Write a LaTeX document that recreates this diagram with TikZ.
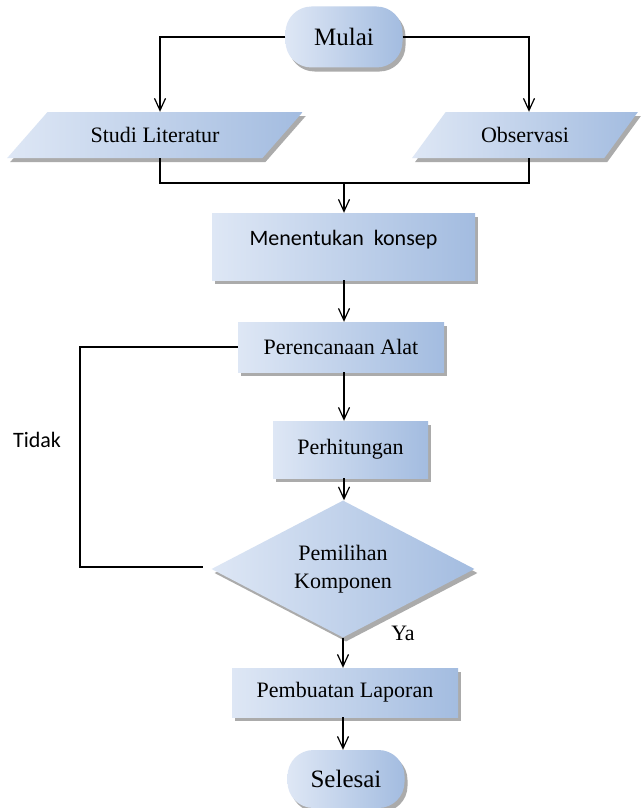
\documentclass[tikz,border=0pt]{standalone}
\usepackage{fontspec}
\setmainfont{Liberation Serif}
\newfontfamily\calibri{Carlito}
\usetikzlibrary{shapes.geometric, shadows, arrows.meta}

\definecolor{boxlight}{RGB}{222,231,245}
\definecolor{boxdark}{RGB}{163,188,224}
\definecolor{shadowgray}{RGB}{150,150,150}

\tikzset{
	flowbox/.style={draw=none, left color=boxlight, right color=boxdark,
		drop shadow={shadow xshift=3pt, shadow yshift=-4pt, fill=shadowgray, opacity=.8},
		font=\fontsize{22}{28}\selectfont, inner sep=2pt},
	terminal/.style={flowbox, rectangle, rounded corners=26pt, font=\fontsize{25}{30}\selectfont},
	process/.style={flowbox, rectangle},
	inout/.style={flowbox, trapezium, trapezium stretches=true},
	decision/.style={flowbox, diamond, aspect=1.9, inner sep=0pt, align=center},
	flowline/.style={line width=1.2pt},
}

\begin{document}
\begin{tikzpicture}[x=1pt, y=-1pt, >={Straight Barb[length=12pt, width=11pt]}]
	\useasboundingbox[fill=white] (0,0) rectangle (640,808);
	
	\node[terminal, minimum width=117pt, minimum height=61pt] (mulai) at (344,37) {Mulai};
	\node[inout, trapezium left angle=38, trapezium right angle=142,
		minimum width=296pt, minimum height=46pt] (studi) at (155,135) {Studi Literatur};
	\node[inout, trapezium left angle=45, trapezium right angle=135,
		minimum width=226pt, minimum height=46pt] (observasi) at (525,135) {Observasi};
	\node[process, minimum width=263pt, minimum height=67pt, text depth=18pt] (konsep) at (343.5,246.5) {\calibri Menentukan\ \ konsep};
	\node[process, minimum width=206pt, minimum height=50pt] (rencana) at (341,347) {Perencanaan Alat};
	\node[process, minimum width=155pt, minimum height=57pt] (hitung) at (350.5,449.5) {Perhitungan};
	\node[decision, minimum width=263pt, minimum height=137pt] (pilih) at (343,569) {Pemilihan\\Komponen};
	\node[process, minimum width=226pt, minimum height=49pt] (laporan) at (345,692.5) {Pembuatan Laporan};
	\node[terminal, minimum width=117pt, minimum height=58pt] (selesai) at (346,779) {Selesai};
	
	\node[font=\calibri\fontsize{22}{26}\selectfont] (tidak) at (37,440) {Tidak};
	\node[font=\fontsize{22}{26}\selectfont] (ya) at (403,633) {Ya};
	
	\coordinate (merge) at (344,183);
	\coordinate (back) at (80,567);
	\coordinate (backend) at (203,567);
	
	\draw[flowline, ->] (mulai.west) -| ([xshift=5pt]studi.north);
	\draw[flowline, ->] (mulai.east) -| ([xshift=4pt]observasi.north);
	\draw[flowline] ([xshift=5pt]studi.south) |- (merge) -| ([xshift=4pt]observasi.south);
	\draw[flowline, ->] (merge) -- (merge |- konsep.north);
	\draw[flowline, ->] (merge |- konsep.south) -- (merge |- rencana.north);
	\draw[flowline, ->] (merge |- rencana.south) -- (merge |- hitung.north);
	\draw[flowline, ->] (merge |- hitung.south) -- (merge |- pilih.north);
	\draw[flowline, ->] (pilih.south) -- (pilih.south |- laporan.north);
	\draw[flowline, ->] (pilih.south |- laporan.south) -- (pilih.south |- selesai.north);
	% kembali jika tidak
	\draw[flowline] (rencana.west) -| (back) -- (backend);
\end{tikzpicture}
\end{document}
